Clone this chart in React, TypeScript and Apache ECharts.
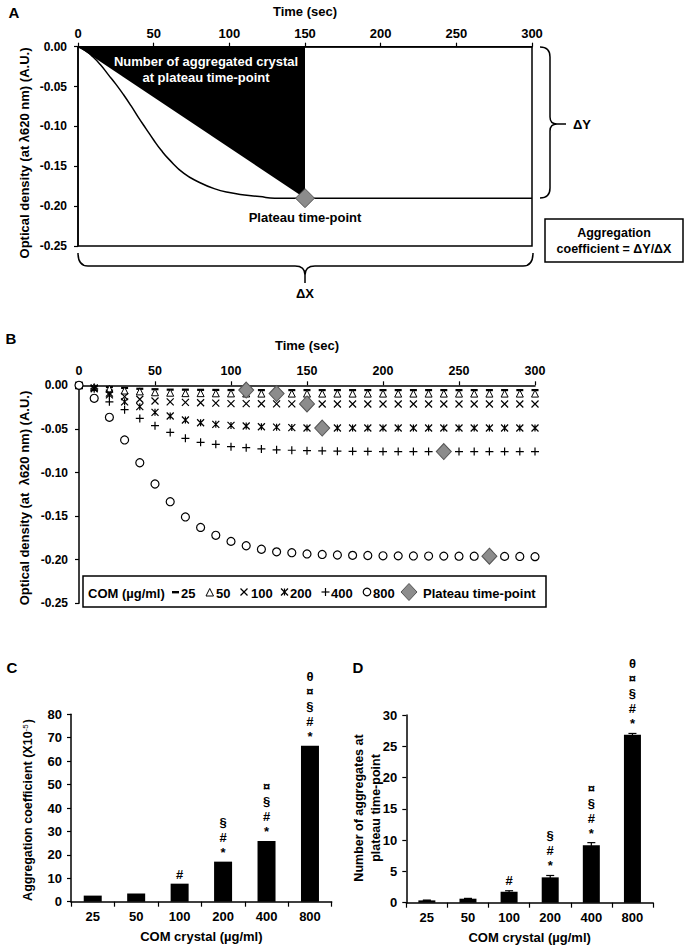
import React, { useEffect, useRef } from 'react';
import * as echarts from 'echarts';

const FONT = '"Liberation Sans", Arial, Helvetica, sans-serif';

// ---------- Panel A (schematic) ----------
const A_TIME = [0, 5, 10, 15, 20, 25, 30, 35, 40, 45, 50, 55, 60, 70, 80, 90, 100, 110, 120, 130, 150, 200, 250, 300];
const A_OD = [0, -0.005, -0.013, -0.023, -0.035, -0.047, -0.06, -0.074, -0.089, -0.103, -0.117, -0.13, -0.141, -0.159, -0.17, -0.178, -0.183, -0.186, -0.188, -0.19, -0.19, -0.19, -0.19, -0.19];
const A_PLATEAU_T = 150;
const A_PLATEAU_OD = -0.19;

// ---------- Panel B (kinetics) ----------
const B_TIME = [0, 10, 20, 30, 40, 50, 60, 70, 80, 90, 100, 110, 120, 130, 140, 150, 160, 170, 180, 190, 200, 210, 220, 230, 240, 250, 260, 270, 280, 290, 300];
const B_25 = [0, -0.001, -0.002, -0.003, -0.004, -0.0045, -0.005, -0.005, -0.0052, -0.0053, -0.0054, -0.0055, -0.0055, -0.0055, -0.0055, -0.0055, -0.0055, -0.0055, -0.0055, -0.0055, -0.0055, -0.0055, -0.0055, -0.0055, -0.0055, -0.0055, -0.0055, -0.0055, -0.0055, -0.0055, -0.0055];
const B_50 = [0, -0.002, -0.004, -0.006, -0.007, -0.008, -0.0085, -0.009, -0.009, -0.0092, -0.0093, -0.0094, -0.0095, -0.0095, -0.0095, -0.0095, -0.0095, -0.0095, -0.0095, -0.0095, -0.0095, -0.0095, -0.0095, -0.0095, -0.0095, -0.0095, -0.0095, -0.0095, -0.0095, -0.0095, -0.0095];
const B_100 = [0, -0.004, -0.009, -0.013, -0.016, -0.018, -0.019, -0.0195, -0.02, -0.0205, -0.021, -0.021, -0.0212, -0.0213, -0.0213, -0.0214, -0.0214, -0.0214, -0.0214, -0.0214, -0.0214, -0.0214, -0.0214, -0.0214, -0.0214, -0.0214, -0.0214, -0.0214, -0.0214, -0.0214, -0.0214];
const B_200 = [0, -0.003, -0.011, -0.019, -0.0245, -0.031, -0.0352, -0.0398, -0.0429, -0.0448, -0.046, -0.0467, -0.0475, -0.048, -0.0485, -0.049, -0.049, -0.049, -0.049, -0.049, -0.049, -0.049, -0.049, -0.049, -0.049, -0.049, -0.049, -0.049, -0.049, -0.049, -0.049];
const B_400 = [0, -0.004, -0.019, -0.028, -0.038, -0.0463, -0.054, -0.0608, -0.0654, -0.0677, -0.0704, -0.0715, -0.073, -0.074, -0.0745, -0.075, -0.0752, -0.0755, -0.0757, -0.0758, -0.076, -0.076, -0.076, -0.076, -0.076, -0.076, -0.076, -0.076, -0.076, -0.076, -0.076];
const B_800 = [0, -0.0149, -0.0367, -0.0627, -0.0888, -0.1132, -0.1335, -0.151, -0.163, -0.172, -0.179, -0.184, -0.188, -0.191, -0.192, -0.1934, -0.194, -0.1946, -0.195, -0.1952, -0.1955, -0.1956, -0.1957, -0.1958, -0.1959, -0.196, -0.196, -0.196, -0.1962, -0.1963, -0.1965];
const COM_LEVELS = ['25', '50', '100', '200', '400', '800'];
const B_PLATEAU_T = [110, 130, 150, 160, 240, 270];
const B_PLATEAU_OD = [-0.0055, -0.0095, -0.0214, -0.049, -0.076, -0.196];

// ---------- Panels C & D ----------
const CATS = ['25', '50', '100', '200', '400', '800'];
const C_COEF = [2.6, 3.5, 7.7, 17.1, 25.9, 66.6];
const D_NUM = [0.37, 0.64, 1.76, 4.05, 9.2, 26.85];
const D_ERR = [0.05, 0.05, 0.15, 0.3, 0.4, 0.2];
const SIG = ['', '', '#', '§\n#\n*', '¤\n§\n#\n*', 'θ\n¤\n§\n#\n*'];

// ---------- shapes ----------
let registered = false;
function registerShapes() {
  if (registered) return;
  registered = true;
  echarts.graphic.registerShape(
    'braceRight',
    echarts.graphic.extendPath(
      'M540,47 Q550,47 550,57 L550,117 Q550,124 557,124 L566,124 M557,124 Q550,124 550,131 L550,188 Q550,198 540,198',
      {}
    )
  );
  echarts.graphic.registerShape(
    'braceBottom',
    echarts.graphic.extendPath(
      'M78,253 Q78,266 88,266 L295,266 Q305,266 305,275 L305,283 M305,275 Q305,266 315,266 L523,266 Q533,266 533,253',
      {}
    )
  );
}

const pairs = (xs: number[], ys: number[]) => xs.map((x, i) => [x, ys[i]]);

const axisLine = { show: true, onZero: false, lineStyle: { color: '#000', width: 1.5 } };
const axisTick = { show: true, length: 4, lineStyle: { color: '#000', width: 1.2 } };
const lbl = (size: number, margin: number) => ({ color: '#000', fontFamily: FONT, fontWeight: 'bold', fontSize: size, margin });
const nameStyle = (size: number) => ({ color: '#000', fontFamily: FONT, fontWeight: 'bold', fontSize: size });
const txt = (text: string, x: number, y: number, size: number, extra: any = {}) => ({
  type: 'text',
  x,
  y,
  z: 100,
  style: {
    text,
    fill: '#000',
    font: `bold ${size}px ${FONT}`,
    align: 'center',
    verticalAlign: 'middle',
    ...extra,
  },
});

function buildOption() {
  const bMarks = [
    { symbol: 'rect', size: [7, 2.2], fill: '#000', bw: 0 },
    { symbol: 'triangle', size: 7, fill: '#fff', bw: 1 },
    { symbol: 'path://M0,0L10,10M10,0L0,10', size: 7, fill: 'rgba(0,0,0,0)', bw: 1.2 },
    { symbol: 'path://M0,0L10,10M10,0L0,10M5,0L5,10', size: 7, fill: 'rgba(0,0,0,0)', bw: 1.2 },
    { symbol: 'path://M5,0L5,10M0,5L10,5', size: 8, fill: 'rgba(0,0,0,0)', bw: 1.2 },
    { symbol: 'circle', size: 8, fill: '#fff', bw: 1.2 },
  ];
  const bData = [B_25, B_50, B_100, B_200, B_400, B_800];

  const bSeries = bData.map((vals, i) => ({
    type: 'scatter',
    name: COM_LEVELS[i],
    xAxisIndex: 1,
    yAxisIndex: 1,
    data: pairs(B_TIME, vals),
    symbol: bMarks[i].symbol,
    symbolSize: bMarks[i].size,
    itemStyle: { color: bMarks[i].fill, borderColor: '#000', borderWidth: bMarks[i].bw, opacity: 1 },
    clip: false,
    z: 3 + i,
    silent: true,
  }));

  const LY = 592;
  const legendText = (t: string, x: number) => txt(t, x, LY + 1, 13, { align: 'left' });
  const lineEl = (x1: number, y1: number, x2: number, y2: number) => ({
    type: 'line',
    z: 101,
    shape: { x1, y1, x2, y2 },
    style: { stroke: '#000', lineWidth: 1.2 },
  });

  const graphic: any[] = [
    txt('A', 14, 12, 15),
    txt('B', 11, 338, 15),
    txt('C', 12, 667, 15),
    txt('D', 358, 667, 15),
    { ...txt('Optical density (at λ620 nm) (A.U.)', 24, 153, 13), rotation: Math.PI / 2 },
    { ...txt('Optical density (at  λ620 nm) (A.U.)', 24, 498, 13), rotation: Math.PI / 2 },
    {
      type: 'text',
      x: 28,
      y: 810,
      z: 100,
      rotation: Math.PI / 2,
      style: {
        text: 'Aggregation coefficient (X10{s|-5})',
        fill: '#000',
        font: `bold 12.5px ${FONT}`,
        align: 'center',
        verticalAlign: 'middle',
        rich: { s: { fontSize: 8, fontWeight: 'normal', fontFamily: FONT, fill: '#000', verticalAlign: 'top', padding: [0, 1, 6, 0] } },
      },
    },
    { ...txt('Number of aggregates at\nplateau time-point', 367, 808, 12.5, { lineHeight: 17 }), rotation: Math.PI / 2 },
    txt('Number of aggregated crystal\nat plateau time-point', 206, 69.5, 13, { fill: '#fff', lineHeight: 15.6 }),
    txt('ΔY', 582, 124, 13),
    txt('ΔX', 305, 293, 13),
    {
      type: 'rect',
      z: 99,
      shape: { x: 545, y: 219, width: 138, height: 43 },
      style: { fill: '#fff', stroke: '#000', lineWidth: 1.5 },
    },
    txt('Aggregation\ncoefficient = ΔY/ΔX', 614, 241, 12.5, { lineHeight: 15.5 }),
    { type: 'braceRight', x: 0, y: 0, z: 100, style: { fill: 'none', stroke: '#000', lineWidth: 1.5 } },
    { type: 'braceBottom', x: 0, y: 0, z: 100, style: { fill: 'none', stroke: '#000', lineWidth: 1.5 } },
    // legend of panel B
    {
      type: 'rect',
      z: 99,
      shape: { x: 83, y: 576, width: 463, height: 31 },
      style: { fill: '#fff', stroke: '#000', lineWidth: 1.5 },
    },
    legendText('COM (µg/ml)', 88),
    { type: 'rect', z: 101, shape: { x: 172, y: LY - 1, width: 7, height: 2.4 }, style: { fill: '#000' } },
    legendText(COM_LEVELS[0], 181),
    {
      type: 'polygon',
      z: 101,
      shape: { points: [[206, LY + 4], [213.5, LY + 4], [209.75, LY - 3.5]] },
      style: { fill: '#fff', stroke: '#000', lineWidth: 1 },
    },
    legendText(COM_LEVELS[1], 216),
    lineEl(240.5, LY - 3.5, 247.5, LY + 3.5),
    lineEl(247.5, LY - 3.5, 240.5, LY + 3.5),
    legendText(COM_LEVELS[2], 251),
    lineEl(281, LY - 3.5, 288, LY + 3.5),
    lineEl(288, LY - 3.5, 281, LY + 3.5),
    lineEl(284.5, LY - 3.5, 284.5, LY + 3.5),
    legendText(COM_LEVELS[3], 290),
    lineEl(321.5, LY, 329.5, LY),
    lineEl(325.5, LY - 4, 325.5, LY + 4),
    legendText(COM_LEVELS[4], 331),
    { type: 'circle', z: 101, shape: { cx: 367, cy: LY, r: 3.8 }, style: { fill: '#fff', stroke: '#000', lineWidth: 1.2 } },
    legendText(COM_LEVELS[5], 373),
    {
      type: 'polygon',
      z: 101,
      shape: { points: [[409, LY - 8.5], [417, LY], [409, LY + 8.5], [401, LY]] },
      style: { fill: '#8c8c8c', stroke: '#555', lineWidth: 1 },
    },
    legendText('Plateau time-point', 423),
  ];

  return {
    animation: false,
    backgroundColor: '#fff',
    textStyle: { fontFamily: FONT },
    grid: [
      { left: 78, top: 46.7, width: 454, height: 199.3, show: true, borderColor: '#000', borderWidth: 1.5, backgroundColor: 'rgba(0,0,0,0)' },
      { left: 79, top: 385.3, width: 456, height: 218 },
      { left: 71, top: 714.3, width: 260.7, height: 187.4 },
      { left: 406.3, top: 715, width: 246.7, height: 187.7 },
    ],
    xAxis: [
      {
        type: 'value', gridIndex: 0, position: 'top', min: 0, max: 300, interval: 50,
        axisLine, axisTick, axisLabel: lbl(13, 7), splitLine: { show: false },
        name: 'Time (sec)', nameLocation: 'middle', nameGap: 29, nameTextStyle: nameStyle(13),
      },
      {
        type: 'value', gridIndex: 1, position: 'top', min: 0, max: 300, interval: 50,
        axisLine, axisTick, axisLabel: lbl(12.5, 8), splitLine: { show: false },
        name: 'Time (sec)', nameLocation: 'middle', nameGap: 33, nameTextStyle: nameStyle(13),
      },
      {
        type: 'category', gridIndex: 2, data: CATS,
        axisLine, axisTick: { ...axisTick, length: 5, alignWithLabel: false }, axisLabel: lbl(13, 8),
        name: 'COM crystal (µg/ml)', nameLocation: 'middle', nameGap: 28, nameTextStyle: nameStyle(13),
      },
      {
        type: 'category', gridIndex: 3, data: CATS,
        axisLine, axisTick: { ...axisTick, length: 5, alignWithLabel: false }, axisLabel: lbl(13, 8),
        name: 'COM crystal (µg/ml)', nameLocation: 'middle', nameGap: 28, nameTextStyle: nameStyle(13),
      },
    ],
    yAxis: [
      {
        type: 'value', gridIndex: 0, min: -0.25, max: 0, interval: 0.05,
        axisLine, axisTick, splitLine: { show: false },
        axisLabel: { ...lbl(12, 11), formatter: (v: number) => v.toFixed(2) },
      },
      {
        type: 'value', gridIndex: 1, min: -0.25, max: 0, interval: 0.05,
        axisLine, axisTick, splitLine: { show: false },
        axisLabel: { ...lbl(12, 11), formatter: (v: number) => v.toFixed(2) },
      },
      {
        type: 'value', gridIndex: 2, min: 0, max: 80, interval: 10,
        axisLine, axisTick, splitLine: { show: false }, axisLabel: lbl(13, 9),
      },
      {
        type: 'value', gridIndex: 3, min: 0, max: 30, interval: 5,
        axisLine, axisTick, splitLine: { show: false }, axisLabel: lbl(13, 9),
      },
    ],
    series: [
      {
        type: 'custom',
        name: 'Number of aggregated crystal',
        xAxisIndex: 0,
        yAxisIndex: 0,
        data: [[A_PLATEAU_T, A_PLATEAU_OD]],
        silent: true,
        z: 1,
        renderItem: (_p: any, api: any) => {
          const p0 = api.coord([0, 0]);
          const p1 = api.coord([api.value(0), api.value(1)]);
          const p2 = api.coord([api.value(0), 0]);
          return { type: 'polygon', shape: { points: [p0, p1, p2] }, style: { fill: '#000' } };
        },
      },
      {
        type: 'line',
        name: 'OD curve',
        xAxisIndex: 0,
        yAxisIndex: 0,
        data: pairs(A_TIME, A_OD),
        showSymbol: false,
        smooth: 0.5,
        lineStyle: { color: '#000', width: 1.5 },
        silent: true,
        z: 2,
      },
      {
        type: 'scatter',
        name: 'Plateau A',
        xAxisIndex: 0,
        yAxisIndex: 0,
        data: [[A_PLATEAU_T, A_PLATEAU_OD]],
        symbol: 'diamond',
        symbolSize: [19, 19],
        itemStyle: { color: '#8c8c8c', borderColor: '#555', borderWidth: 1, opacity: 1 },
        label: {
          show: true, position: 'bottom', distance: 3, formatter: 'Plateau time-point',
          color: '#000', fontFamily: FONT, fontWeight: 'bold', fontSize: 13, opacity: 1,
        },
        silent: true,
        z: 5,
      },
      ...bSeries,
      {
        type: 'scatter',
        name: 'Plateau time-point',
        xAxisIndex: 1,
        yAxisIndex: 1,
        data: pairs(B_PLATEAU_T, B_PLATEAU_OD),
        symbol: 'diamond',
        symbolSize: [15, 16],
        itemStyle: { color: '#8c8c8c', borderColor: '#555', borderWidth: 1, opacity: 1 },
        silent: true,
        z: 20,
      },
      {
        type: 'bar',
        name: 'Aggregation coefficient',
        xAxisIndex: 2,
        yAxisIndex: 2,
        data: C_COEF,
        barWidth: 18,
        itemStyle: { color: '#000' },
        label: {
          show: true, position: 'top', distance: 2,
          formatter: (p: any) => SIG[p.dataIndex],
          color: '#000', fontFamily: FONT, fontSize: 13, fontWeight: 'bold', lineHeight: 15,
        },
        silent: true,
      },
      {
        type: 'bar',
        name: 'Number of aggregates',
        xAxisIndex: 3,
        yAxisIndex: 3,
        data: D_NUM,
        barWidth: 17,
        itemStyle: { color: '#000' },
        label: {
          show: true, position: 'top', distance: 4,
          formatter: (p: any) => SIG[p.dataIndex],
          color: '#000', fontFamily: FONT, fontSize: 13, fontWeight: 'bold', lineHeight: 15,
        },
        silent: true,
      },
      {
        type: 'custom',
        name: 'SEM',
        xAxisIndex: 3,
        yAxisIndex: 3,
        data: D_NUM.map((v, i) => [i, v - D_ERR[i], v + D_ERR[i]]),
        silent: true,
        z: 5,
        renderItem: (_p: any, api: any) => {
          const lo = api.coord([api.value(0), api.value(1)]);
          const hi = api.coord([api.value(0), api.value(2)]);
          const s = { stroke: '#000', lineWidth: 1.2 };
          return {
            type: 'group',
            children: [
              { type: 'line', shape: { x1: hi[0], y1: lo[1], x2: hi[0], y2: hi[1] }, style: s },
              { type: 'line', shape: { x1: hi[0] - 4, y1: hi[1], x2: hi[0] + 4, y2: hi[1] }, style: s },
              { type: 'line', shape: { x1: lo[0] - 4, y1: lo[1], x2: lo[0] + 4, y2: lo[1] }, style: s },
            ],
          };
        },
      },
    ],
    graphic,
  };
}

export default function App() {
  const ref = useRef<HTMLDivElement>(null);
  useEffect(() => {
    if (!ref.current) return;
    registerShapes();
    const chart = echarts.init(ref.current, null, { renderer: 'svg' });
    chart.setOption(buildOption() as any);
    return () => chart.dispose();
  }, []);
  return (
    <div
      ref={ref}
      style={{ position: 'absolute', left: 0, top: 0, width: 686, height: 949, background: '#fff' }}
    />
  );
}
